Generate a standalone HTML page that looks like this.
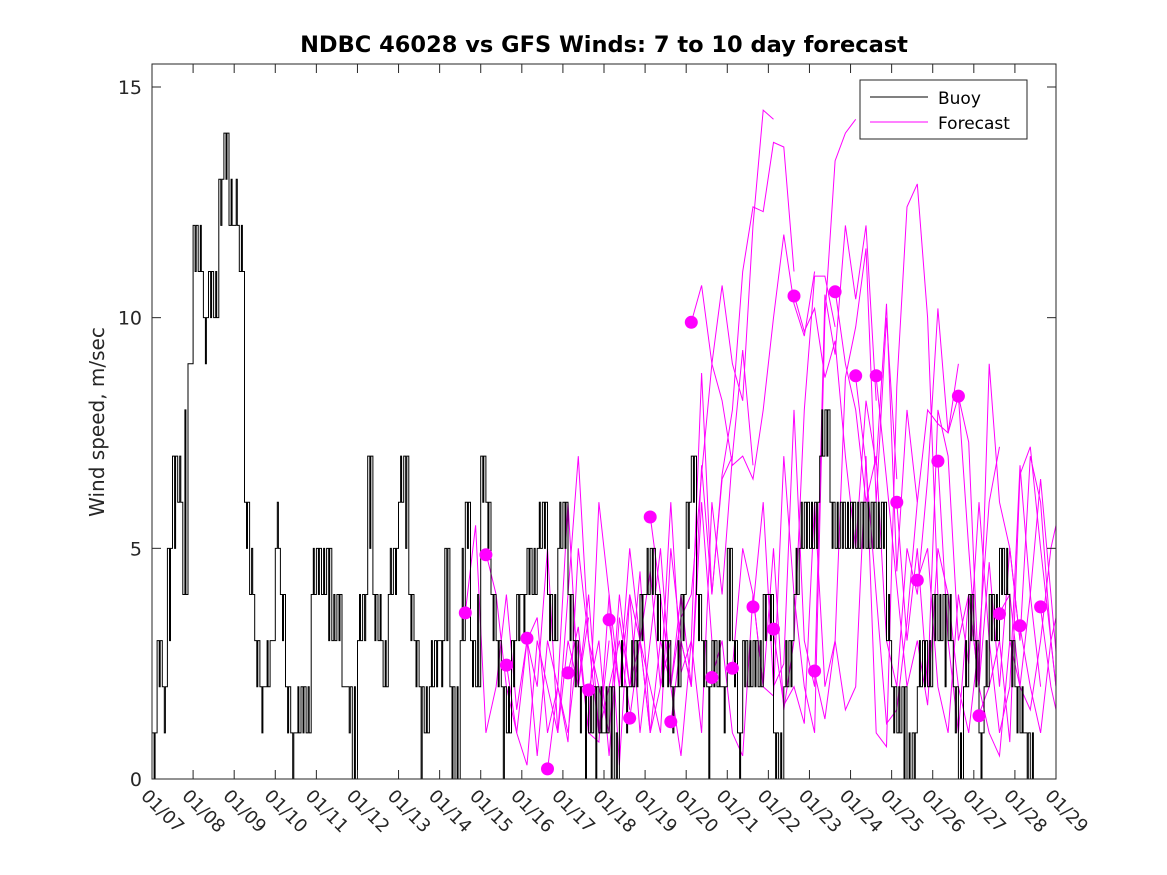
<!DOCTYPE html>
<html><head><meta charset="utf-8"><style>
html,body{margin:0;padding:0;background:#fff;}
svg{display:block;font-family:"DejaVu Sans","Liberation Sans",sans-serif;}
</style></head><body>
<svg id="chart" width="1167" height="875">
<rect x="0" y="0" width="1167" height="875" fill="#fff"/>
<text x="604" y="52" text-anchor="middle" font-size="22.5" font-weight="bold">NDBC 46028 vs GFS Winds: 7 to 10 day forecast</text>
<text transform="translate(104,422) rotate(-90)" text-anchor="middle" font-size="20" fill="#262626">Wind speed, m/sec</text>
<defs><clipPath id="pc"><rect x="152" y="64" width="904" height="715"/></clipPath></defs>
<g id="forecasts" clip-path="url(#pc)"></g>
<g id="buoy" clip-path="url(#pc)"></g>
<g id="dots"></g>
<g id="axes"></g>
<g>
<rect x="860" y="80" width="167" height="59" fill="#fff" stroke="#262626" stroke-width="1"/>
<line x1="870" y1="97" x2="928" y2="97" stroke="#000"/>
<text x="938" y="104" font-size="17">Buoy</text>
<line x1="870" y1="122" x2="928" y2="122" stroke="#ff00ff"/>
<text x="938" y="129" font-size="17">Forecast</text>
</g>
</svg>
<script>
const xTickLabels=["01/07","01/08","01/09","01/10","01/11","01/12","01/13","01/14","01/15","01/16","01/17","01/18","01/19","01/20","01/21","01/22","01/23","01/24","01/25","01/26","01/27","01/28","01/29"];
const yTicks=[0,5,10,15];
// buoy: 3-hourly values starting 01/07 00h
const buoyValues=[1,3,2,5,7,6,4,9, 12,11,10,11,10,13,14,12, 12,11,6,4,3,2,2,3, 5,4,2,1,1,2,1,4, 5,4,5,3,4,2,2,0, 3,4,7,4,3,2,4,5, 6,7,4,3,2,1,2,3, 3,5,2,0,3,6,3,2, 7,6,4,3,2,1,3,4, 4,5,4,5,6,4,3,5, 6,4,3,2,2,1,2,1, 1,2,0,2,2,2,3,4, 4,5,4,3,3,2,2,4, 6,7,4,3,2,3,2,2, 5,3,1,3,2,3,2,4, 4,1,0,2,3,4,5,6, 5,6,7,8,6,5,6,5, 6,5,6,5,6,5,6,3, 2,1,2,0,1,2,3,2, 4,3,4,3,2,0,2,4, 3,1,2,4,3,5,4,3, 2,1,1,0];
// buoy spikes (alternate values within each 3h block)
const buoySpike=[0,2,1,3,5,7,8,9, 11,12,9,10,11,12,13,13, 13,12,5,5,2,1,3,3, 6,3,1,0,2,1,2,5, 4,5,3,4,3,2,1,2, 4,3,5,3,4,3,5,4, 7,5,3,2,0,2,3,2, 2,3,0,2,5,5,2,4, 6,5,3,2,0,2,2,3, 3,4,5,6,5,3,4,6, 5,3,2,1,0,2,0,2, 2,0,1,3,1,3,2,3, 5,4,3,2,2,1,3,3, 5,6,3,2,0,2,3,1, 3,2,0,2,3,2,3,3, 3,0,1,3,2,5,6,5, 6,5,8,7,5,6,5,6, 5,6,5,6,5,6,5,4, 1,2,0,1,0,3,2,3, 3,4,2,4,1,1,3,3, 2,0,3,3,4,4,5,2, 1,2,0,1];
const runStartDays=[7.625,8.125,8.625,9.125,9.625,10.125,10.625,11.125,11.625,12.125,12.625,13.125,13.625,14.125,14.625,15.125,15.625,16.125,16.625,17.125,17.625,18.125,18.625,19.125,19.625,20.125,20.625,21.125,21.625];
const dotValues=[3.6,4.86,2.47,3.05,0.22,2.3,1.93,3.45,1.32,5.68,1.24,9.9,2.2,2.4,3.73,3.25,10.47,2.34,10.56,8.74,8.74,6.0,4.31,6.89,8.3,1.37,3.58,3.32,3.73];
const runValues=[
[3.6,5.5,1,2,4,1.5,3,2,5,1,3,2,3.5],
[4.9,4,2,1,3,0.5,3,2,6,2,4,1,3],
[2.5,1,0.3,3,2,1,4,7,3,1,2,3,1.5],
[3,3.5,1,2,0.8,5,3,2,1,4,2,3,1],
[0.2,2,1,3,1,0.8,4,2,5,3,1,2,3],
[2.3,3.3,1,6,4,0.3,4,3,2,1,5,3,2],
[1.9,3,0.5,3.5,2,4.5,1,3,2,4,2,6,3],
[3.4,2,4,1,3,5,2,0.5,3,1,6,4,7],
[1.3,3,4.5,2,6,2.3,3,8.8,4,6.5,7,9.3,6.8],
[5.7,4,2,3.5,4,6.6,9,10.7,9,8.2,12,14.5,14.3],
[1.2,3,2,6.8,4,6.6,8,11,12.4,12.3,13.8,13.7,11],
[9.9,10.7,9,8.2,6.8,7,6.5,8,10,11.8,10.3,9.6,11],
[2.2,3,1,0.5,4,2,5,1.5,3,8,10.9,10.9,9.8],
[2.4,5,4,2,1.8,7,4,2,1,10,13.4,14,14.3],
[3.7,6,2,2.5,8,3,2,10.5,9.2,12,10.4,12,8.2],
[3.2,1.6,2,1.2,6,2,3,8.7,9.8,11.5,6,10,6.5],
[10.5,9.7,10.2,8.7,9.5,7,5,8.2,6.8,10.3,4.5,8,6],
[2.3,1.3,3,1.5,2,7,1,0.7,8.5,12.4,12.9,10,4],
[10.6,9,8,6,7,3,2,5,4,6.5,10.2,7.5,9],
[8.7,6.8,4,1.2,1.5,3.4,6,8,7.7,7.5,8.3,5,2],
[8.7,6.5,4.2,2,3,1.6,5,4,2,1,3,6,7.2],
[6,3,5,2,8,7,3,4,2,9,6,5,3],
[4.3,5,2,1,4,2.5,6,3,1,2,6.8,4,2],
[6.9,3,1,4,2,4.7,2,5,3,7,6,3,1],
[8.3,7.3,2,1,0.5,3,2,4,6.5,4,1.5,3,1],
[1.4,2,3,0.8,6.6,7.2,5,3,1,2,3,2,1],
[3.6,4,2,1.5,3,5,6,4,2,1,2,9.3,8.9],
[3.3,2,1,3,4,2],
[3.7,2,1,3,7]
];
const X0=152,X1=1056,Y0=779,Y1=87;
function xs(d){return X0+(X1-X0)*d/22;}
function ys(v){return Y0-(Y0-Y1)*v/15;}
const NS="http://www.w3.org/2000/svg";
function mk(t,a,p){const e=document.createElementNS(NS,t);for(const k in a)e.setAttribute(k,a[k]);p.appendChild(e);return e;}
const fg=document.getElementById('forecasts');
runValues.forEach((r,i)=>{
  const pts=r.map((v,j)=>xs(runStartDays[i]+j*0.25).toFixed(1)+','+ys(v).toFixed(1)).join(' ');
  const pl=mk('polyline',{points:pts,fill:'none',stroke:'#ff00ff','stroke-width':1},fg);
  
  
});
const bg=document.getElementById('buoy');
let d='';
buoyValues.forEach((v,i)=>{
  const t=i*0.125;
  const s=buoySpike[i];
  const xa=xs(t),xb=xs(t+0.05),xc=xs(t+0.075),xd=xs(t+0.125);
  d+=(i===0?'M':'L')+xa.toFixed(1)+','+ys(v)+' L'+xb.toFixed(1)+','+ys(v)+' L'+xb.toFixed(1)+','+ys(s)+' L'+xc.toFixed(1)+','+ys(s)+' L'+xc.toFixed(1)+','+ys(v)+' L'+xd.toFixed(1)+','+ys(v)+' ';
});
const bp=mk('path',{d:d,fill:'none',stroke:'#000','stroke-width':1},bg);


const dg=document.getElementById('dots');
dotValues.forEach((v,i)=>{
  const c=mk('circle',{cx:xs(runStartDays[i]).toFixed(1),cy:ys(v).toFixed(1),r:6.5,fill:'#ff00ff'},dg);
  
  
});
const ag=document.getElementById('axes');
const box=mk('rect',{x:X0,y:64,width:X1-X0,height:Y0-64,fill:'none',stroke:'#262626','stroke-width':1},ag);


yTicks.forEach(v=>{
  const y=ys(v);
  mk('line',{x1:X0,y1:y,x2:X0+9,y2:y,stroke:'#262626'},ag);
  mk('line',{x1:X1,y1:y,x2:X1-9,y2:y,stroke:'#262626'},ag);
  const t=mk('text',{x:X0-10,y:y+7,'text-anchor':'end','font-size':19,fill:'#262626'},ag);
  t.textContent=v;
  
  
});
xTickLabels.forEach((lab,i)=>{
  const x=xs(i);
  mk('line',{x1:x,y1:Y0,x2:x,y2:Y0-9,stroke:'#262626'},ag);
  mk('line',{x1:x,y1:64,x2:x,y2:73,stroke:'#262626'},ag);
  const t=mk('text',{transform:'translate('+(x-12)+','+(Y0+18)+') rotate(45)','font-size':18,fill:'#262626'},ag);
  t.textContent=lab;
  
  
});
</script>
</body></html>
